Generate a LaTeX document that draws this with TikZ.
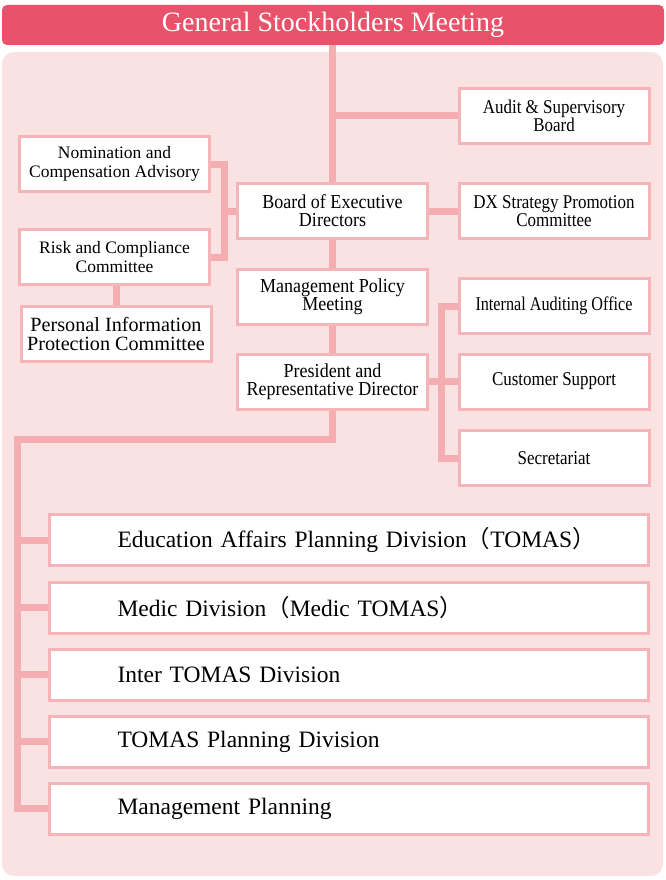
\documentclass[tikz,border=0pt]{standalone}
\usepackage{fontspec}
\setmainfont{Liberation Serif}
\newfontfamily\cjk{Noto Sans CJK JP}
\newfontfamily\fa[FakeStretch=0.83]{Liberation Serif}
\newfontfamily\fb[FakeStretch=0.87]{Liberation Serif}
\newfontfamily\fc[FakeStretch=0.91]{Liberation Serif}
\definecolor{titlered}{RGB}{232,82,106}
\definecolor{panelpink}{RGB}{251,226,226}
\definecolor{linepink}{RGB}{244,174,178}
\definecolor{boxpink}{RGB}{245,180,183}
\begin{document}
\begin{tikzpicture}[x=1pt,y=-1pt,
  conn/.style={draw=linepink,line width=7pt},
  box/.style={draw=boxpink,line width=3pt,fill=white,minimum width=190pt,minimum height=55pt,inner sep=0pt,align=center},
  divbox/.style={draw=boxpink,line width=3pt,fill=white,minimum height=51pt,text width=599pt,inner sep=0pt,align=left,font=\fontsize{23.5}{26}\selectfont},
  sa/.style={font=\fa\fontsize{19.5}{18}\selectfont},
  sb/.style={font=\fb\fontsize{19.5}{18}\selectfont},
  sc/.style={font=\fc\fontsize{19.8}{18}\selectfont},
  sn/.style={font=\fontsize{17.5}{18.5}\selectfont}]
\useasboundingbox (0,0) rectangle (665,880);
\fill[panelpink,rounded corners=12pt] (2,52) rectangle (663,876);
\node[fill=titlered,rounded corners=5pt,minimum width=662pt,minimum height=40pt,inner sep=0pt,text=white,font=\fontsize{28}{30}\selectfont] (gsm) at (333,25) {General Stockholders Meeting};

\node[box,sb] (audit) at (554,116) {Audit \& Supervisory\\Board};
\node[box,sn] (nom) at (114.5,164) {Nomination and\\Compensation Advisory};
\node[box,sc] (board) at (332.5,211) {Board of Executive\\Directors};
\node[box,sb] (dx) at (554,211) {DX Strategy Promotion\\Committee};
\node[box,sn] (risk) at (114.5,257) {Risk and Compliance\\Committee};
\node[box,sc] (mpm) at (332.5,297) {Management Policy\\Meeting};
\node[box,font=\fontsize{20.2}{19}\selectfont] (pers) at (116,334) {Personal Information\\Protection Committee};
\node[box,sa] (iao) at (554,306) {Internal Auditing Office};
\node[box,sc] (pres) at (332.5,381.5) {President and\\Representative Director};
\node[box,sb] (cs) at (554,381.5) {Customer Support};
\node[box,sb] (sec) at (554,458) {Secretariat};

\node[divbox] (d1) at (349,540) {\hspace*{68pt}Education Affairs Planning Division{\cjk （}TOMAS{\cjk ）}};
\node[divbox] (d2) at (349,607.5) {\hspace*{68pt}Medic Division{\cjk （}Medic TOMAS{\cjk ）}};
\node[divbox] (d3) at (349,674.5) {\hspace*{68pt}Inter TOMAS Division};
\node[divbox] (d4) at (349,741.5) {\hspace*{68pt}TOMAS Planning Division};
\node[divbox] (d5) at (349,808.5) {\hspace*{68pt}Management Planning};

\coordinate (lbx) at (224,0);
\coordinate (rbx) at (441,0);
\coordinate (busTop) at (17,439);

\draw[conn] (board.north |- gsm.south) -- (board.north);
\draw[conn] (board.north |- audit.west) -- (audit.west);
\draw[conn] (board.east) -- (dx.west);
\draw[conn] (board.south) -- (mpm.north);
\draw[conn] (mpm.south) -- (pres.north);
\draw[conn] (nom.east) -- (nom.east -| lbx) -- (risk.east -| lbx) -- (risk.east);
\draw[conn] (board.west) -- (board.west -| lbx);
\draw[conn] (pers.north |- risk.south) -- (pers.north);
\draw[conn] (iao.west) -- (iao.west -| rbx) -- (sec.west -| rbx) -- (sec.west);
\draw[conn] (pres.east) -- (cs.west);
\draw[conn] (pres.south) -- (pres.south |- busTop) -- (busTop) -- (busTop |- d5.west) -- (d5.west);
\foreach \d in {d1,d2,d3,d4} \draw[conn] (busTop |- \d.west) -- (\d.west);
\end{tikzpicture}
\end{document}
